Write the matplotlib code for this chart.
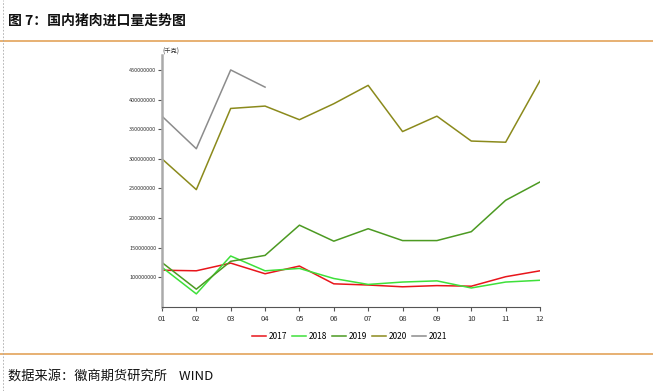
import matplotlib
matplotlib.use("Agg")
import matplotlib.pyplot as plt
from matplotlib.lines import Line2D

plt.rcParams['font.family'] = ['Noto Sans CJK SC', 'DejaVu Sans']

# months and import volumes (kg)
months = ['01', '02', '03', '04', '05', '06', '07', '08', '09', '10', '11', '12']
y2017 = [112e6, 111e6, 124e6, 106e6, 119e6, 89e6, 87e6, 84e6, 86e6, 85e6, 101e6, 111e6]
y2018 = [117e6, 72e6, 136e6, 111e6, 115e6, 98e6, 88e6, 92e6, 94e6, 82e6, 92e6, 95e6]
y2019 = [125e6, 80e6, 127e6, 137e6, 188e6, 161e6, 182e6, 162e6, 162e6, 177e6, 230e6, 261e6]
y2020 = [300e6, 248e6, 385e6, 389e6, 366e6, 393e6, 424e6, 346e6, 372e6, 330e6, 328e6, 432e6]
y2021 = [372e6, 317e6, 450e6, 421e6]
yticks = [100e6, 150e6, 200e6, 250e6, 300e6, 350e6, 400e6, 450e6]

series = [('2017', y2017, '#e8151b'),
          ('2018', y2018, '#3ee03a'),
          ('2019', y2019, '#4c9a22'),
          ('2020', y2020, '#8b8a1c'),
          ('2021', y2021, '#8c8c8c')]

fig = plt.figure(figsize=(6.53, 3.91), dpi=100)
ax = fig.add_axes([0.248, 0.215, 0.579, 0.644])

for name, vals, color in series:
    ax.plot(range(len(vals)), vals, color=color, lw=1.1, label=name)

ax.set_xlim(0, len(months) - 1)
ax.set_ylim(50e6, 475e6)
ax.set_xticks(range(len(months)))
ax.set_xticklabels(months, fontsize=5.5, color='#333333')
ax.set_yticks(yticks)
ax.set_yticklabels([f'{int(v)}' for v in yticks], fontsize=4, color='#333333')
ax.tick_params(axis='y', length=3, width=0.8, color='#555555', pad=1)
ax.tick_params(axis='x', length=3, width=0.8, color='#555555', pad=3)
for s in ['top', 'right']:
    ax.spines[s].set_visible(False)
ax.spines['left'].set_color('#aaaaaa')
ax.spines['left'].set_linewidth(1.8)
ax.spines['bottom'].set_color('#555555')
ax.spines['bottom'].set_linewidth(0.8)

ax.text(0.002, 1.0, '(千克)', transform=ax.transAxes, fontsize=4.5,
        color='#333333', ha='left', va='bottom')

handles = [Line2D([], [], color=c, lw=1.1) for _, _, c in series]
fig.legend(handles, [n for n, _, _ in series], loc='center', bbox_to_anchor=(0.535, 0.14),
           ncol=5, frameon=False, fontsize=6, handlelength=1.7, handletextpad=0.3,
           columnspacing=0.6)

# title, separators and source
fig.text(0.012, 0.948, '图 7：国内猪肉进口量走势图', fontsize=10, fontweight='bold',
         ha='left', va='center', color='#111111')
fig.add_artist(Line2D([0.0, 1.0], [0.895, 0.895], color='#e3a35a', lw=1.2))
fig.add_artist(Line2D([0.0, 1.0], [0.095, 0.095], color='#e3a35a', lw=1.2))
fig.add_artist(Line2D([0.004, 0.004], [0.0, 1.0], color='#aaaaaa', lw=0.6, ls=(0, (2, 2))))
fig.text(0.012, 0.038, '数据来源：徽商期货研究所    WIND', fontsize=9.5,
         ha='left', va='center', color='#111111')

fig.savefig('out.png', dpi=100)
